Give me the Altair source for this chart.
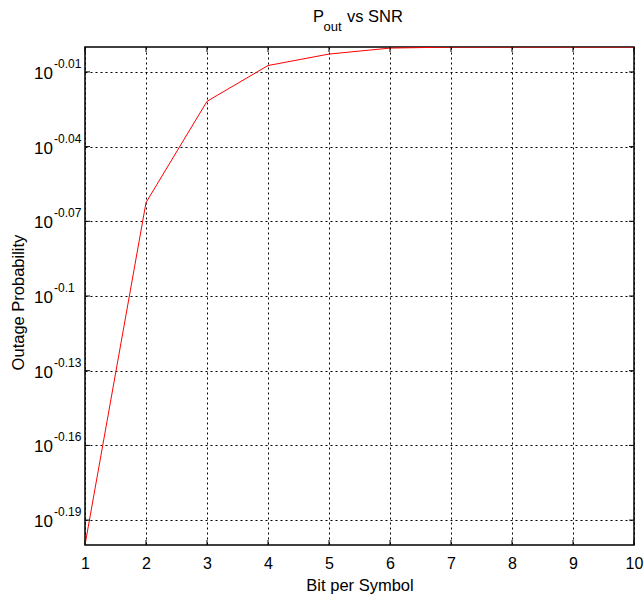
import altair as alt
import pandas as pd

# ---- data ----
bits = [1, 2, 3, 4, 5, 6, 7, 8, 9, 10]
pout = [0.631, 0.866, 0.951, 0.983, 0.9935, 0.999, 0.9999, 1.0, 1.0, 1.0]
y_exps = [-0.01, -0.04, -0.07, -0.1, -0.13, -0.16, -0.19]
y_exp_labels = ["-0.01", "-0.04", "-0.07", "-0.1", "-0.13", "-0.16", "-0.19"]
x_ticks = [1, 2, 3, 4, 5, 6, 7, 8, 9, 10]
title_parts = ["P", "out", "vs SNR"]

W, H = 549, 498
FONT = "Liberation Sans, Arial, sans-serif"

df = pd.DataFrame({"bits": bits, "pout": pout})
ydf = pd.DataFrame({"pout": [10 ** e for e in y_exps], "lab": y_exp_labels})
xdf = pd.DataFrame({"bits": x_ticks})
one = pd.DataFrame({"a": [0]})

xscale = alt.Scale(domain=[1, 10], nice=False, zero=False)
yscale = alt.Scale(type="log", domain=[10 ** -0.2, 1], nice=False)

xaxis = alt.Axis(
    values=x_ticks, format="d", grid=True, gridDash=[2, 3], gridColor="black",
    gridOpacity=1, gridWidth=1, ticks=False, tickSize=0, domain=False,
    labelFont=FONT, labelFontSize=16, labelColor="black", labelPadding=23,
    labelBaseline="alphabetic", labelFlush=False,
    title="Bit per Symbol", titleFont=FONT, titleFontSize=16.5,
    titleFontWeight="normal", titleColor="black", titleY=45,
    titleBaseline="alphabetic")
yaxis = alt.Axis(
    values=[10 ** e for e in y_exps], grid=True, gridDash=[2, 3],
    gridColor="black", gridOpacity=1, gridWidth=1, ticks=False, tickSize=0,
    domain=False, labels=False,
    title="Outage Probability", titleFont=FONT, titleFontSize=16.5,
    titleFontWeight="normal", titleColor="black", titleX=-67,
    titleY=255, titleAngle=-90, titleAlign="center",
    titleBaseline="middle")

X = alt.X("bits:Q", scale=xscale, axis=xaxis)
Y = alt.Y("pout:Q", scale=yscale, axis=yaxis)

line = alt.Chart(df).mark_line(color="red", strokeWidth=1, clip=True).encode(x=X, y=Y)

tick_b = alt.Chart(xdf).mark_rule(color="black", strokeWidth=1).encode(
    x=X, y=alt.value(H), y2=alt.value(H - 5))
tick_t = alt.Chart(xdf).mark_rule(color="black", strokeWidth=1).encode(
    x=X, y=alt.value(0), y2=alt.value(5))
tick_l = alt.Chart(ydf).mark_rule(color="black", strokeWidth=1).encode(
    y=Y, x=alt.value(0), x2=alt.value(5))
tick_r = alt.Chart(ydf).mark_rule(color="black", strokeWidth=1).encode(
    y=Y, x=alt.value(W - 5), x2=alt.value(W))

ten = alt.Chart(ydf).mark_text(align="right", baseline="alphabetic", font=FONT,
                               fontSize=17, dy=7, color="black").encode(
    y=Y, x=alt.value(-32), text=alt.value("10"))
expo = alt.Chart(ydf).mark_text(align="left", baseline="alphabetic", font=FONT,
                                fontSize=12, dy=-4, color="black").encode(
    y=Y, x=alt.value(-31), text="lab:N")

t1 = alt.Chart(one).mark_text(align="left", baseline="alphabetic", font=FONT,
                              fontSize=16.5, color="black").encode(
    x=alt.value(228), y=alt.value(-25), text=alt.value(title_parts[0]))
t2 = alt.Chart(one).mark_text(align="left", baseline="alphabetic", font=FONT,
                              fontSize=13, color="black").encode(
    x=alt.value(238.5), y=alt.value(-16), text=alt.value(title_parts[1]))
t3 = alt.Chart(one).mark_text(align="left", baseline="alphabetic", font=FONT,
                              fontSize=16.5, color="black").encode(
    x=alt.value(262), y=alt.value(-25), text=alt.value(title_parts[2]))

chart = alt.layer(line, tick_b, tick_t, tick_l, tick_r, ten, expo, t1, t2, t3).properties(
    width=W, height=H,
    padding={"left": 85, "top": 47, "right": 10, "bottom": 52},
    autosize=alt.AutoSizeParams(type="none"),
    background="white",
).configure_view(stroke="black", strokeWidth=1.5)

chart.save("out.html", embed_options={"renderer": "svg", "actions": False})
